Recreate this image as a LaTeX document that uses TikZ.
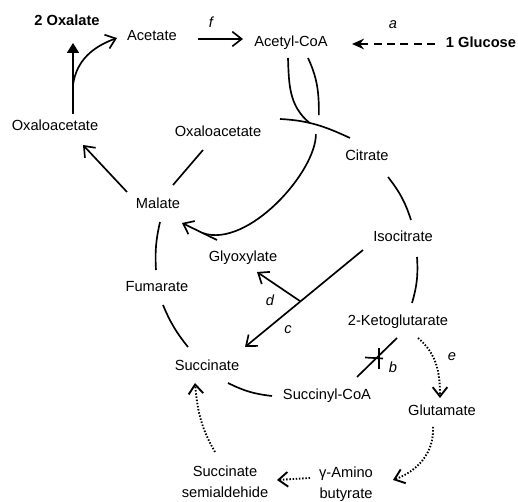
\documentclass[tikz,border=0pt]{standalone}
\usepackage{fontspec}
\setmainfont{Liberation Sans}
\usetikzlibrary{arrows.meta,calc}

\begin{document}
\begin{tikzpicture}[x=0.75pt,y=0.75pt,
  font=\fontsize{11}{13}\selectfont,
  chem/.style={inner sep=5pt, text height=8pt, text depth=2pt},
  chemtwo/.style={inner sep=2pt, align=center, font=\fontsize{11}{15.75}\selectfont},
  lbl/.style={inner sep=1pt, font=\fontsize{11}{13}\selectfont\itshape},
  cyc/.style={line width=1.25pt},
  barb/.style={-{Straight Barb[length=7pt,width=11pt]}},
  dotline/.style={line width=1.4pt, dash pattern=on 1.1pt off 1.3pt}]
  \useasboundingbox (0,0) rectangle (518,502);
  % compounds
  \node[chem] (oxalate) at (67,480) {\bfseries 2 Oxalate};
  \node[chem] (acetate) at (152,465) {Acetate};
  \node[chem] (acoa) at (291,459) {Acetyl-CoA};
  \node[chem] (glucose) at (481,458) {\bfseries 1 Glucose};
  \node[chem] (oaaL) at (55,375) {Oxaloacetate};
  \node[chem] (oaa) at (218,369) {Oxaloacetate};
  \node[chem] (citrate) at (367,345) {Citrate};
  \node[chem] (malate) at (158,297) {Malate};
  \node[chem] (isocit) at (403,264) {Isocitrate};
  \node[chem] (glyox) at (243,244) {Glyoxylate};
  \node[chem] (fumarate) at (157,214) {Fumarate};
  \node[chem] (akg) at (398,180) {2-Ketoglutarate};
  \node[chem] (succ) at (207,135) {Succinate};
  \node[chem] (succoa) at (327,106) {Succinyl-CoA};
  \node[chem] (glut) at (442,90) {Glutamate};
  \node[chemtwo] (gaba) at (346,18) {γ-Amino\\butyrate};
  \node[chemtwo] (ssa) at (225,20) {Succinate\\semialdehide};
  % top left: oxaloacetate to oxalate and acetate
  \draw[cyc, -{Triangle[length=7.5pt,width=9pt]}] ($(oaaL)+(18,13)$) -- coordinate[pos=0.41] (fork) ($(oxalate)+(6,-21)$);
  \draw[cyc,barb] (fork) to[out=82,in=200] ($(acetate)+(-35,-1)$);
  \draw[cyc,barb] ($(acetate)+(46,-2)$) -- ($(acoa)+(-48,4)$);
  \node[lbl] (lf) at ($(acetate)+(59,15)$) {f};
  % glucose
  \draw[cyc, dash pattern=on 6pt off 4pt, -{Stealth[length=9pt,width=8pt]}] ($(glucose)+(-46,0)$) -- ($(acoa)+(61,-1)$);
  \node[lbl] (la) at ($(glucose)+(-88,19)$) {a};
  % malate to outer oxaloacetate
  \draw[cyc,barb] ($(malate)+(-31,13)$) -- ($(oaaL)+(28,-18)$);
  % the cycle
  \draw[cyc] ($(oaa)+(62,14)$) to[out=-3,in=155] coordinate[pos=0.4] (join) coordinate[pos=0.53] (cross) ($(citrate)+(-17,19)$);
  \draw[cyc] ($(citrate)+(21,-20)$) to[bend left=10] ($(isocit)+(8,18)$);
  \draw[cyc] ($(isocit)+(14,-19)$) to[bend left=10] ($(akg)+(14,19)$);
  \draw[cyc] ($(akg)+(-1,-16)$) -- coordinate[pos=0.5] (blk) ($(succoa)+(30,19)$);
  \draw[cyc] ($(succoa)+(-55,0)$) to[bend left=10] ($(succ)+(21,-16)$);
  \draw[cyc] ($(succ)+(-19,20)$) to[bend left=8] ($(fumarate)+(6,-17)$);
  \draw[cyc] ($(fumarate)+(-1,18)$) to[bend left=8] ($(malate)+(2,-17)$);
  \draw[cyc] ($(malate)+(15,20)$) -- ($(oaa)+(-15,-17)$);
  % blocked step b
  \draw[cyc] ($(blk)+(-12,0)$) -- ($(blk)+(6,-1)$);
  \draw[cyc] ($(blk)+(2,9)$) -- ($(blk)+(2,-12)$);
  \node[lbl] (lb) at ($(blk)+(16,-10)$) {b};
  % acetyl-CoA into the cycle and over to malate
  \draw[cyc] ($(acoa)+(-3,-15)$) to[out=-88,in=140] (join);
  \draw[cyc] ($(acoa)+(17,-15)$) to[out=-65,in=90] ($(cross)+(1,10)$);
  \draw[cyc,barb] ($(glyox)+(-26,18)$) -- coordinate[pos=0.4] (mrg) ($(malate)+(24,-18)$);
  \draw[cyc] ($(cross)+(-2,-9)$) .. controls +(0,-38) and +(45,-15) .. (mrg);
  % shunt c and d
  \draw[cyc,barb] ($(isocit)+(-40,-12)$) -- coordinate[pos=0.53] (split) ($(succ)+(38,20)$);
  \draw[cyc,barb] (split) -- ($(glyox)+(14,-14)$);
  \node[lbl] (lc) at ($(succ)+(81,37)$) {c};
  \node[lbl] (ld) at ($(glyox)+(27,-42)$) {d};
  % GABA shunt, dotted
  \draw[dotline,barb] ($(akg)+(20,-16)$) to[out=-40,in=90] ($(glut)+(-2,14)$);
  \node[lbl] (le) at ($(glut)+(10,55)$) {e};
  \draw[dotline,barb] ($(glut)+(-9,-15)$) to[out=-87,in=20] ($(gaba)+(47,4)$);
  \draw[dotline,barb] ($(gaba)+(-36,6)$) -- ($(ssa)+(52,2)$);
  \draw[dotline,barb] ($(ssa)+(-10,30)$) to[out=120,in=-85] ($(succ)+(-12,-16)$);
\end{tikzpicture}
\end{document}
